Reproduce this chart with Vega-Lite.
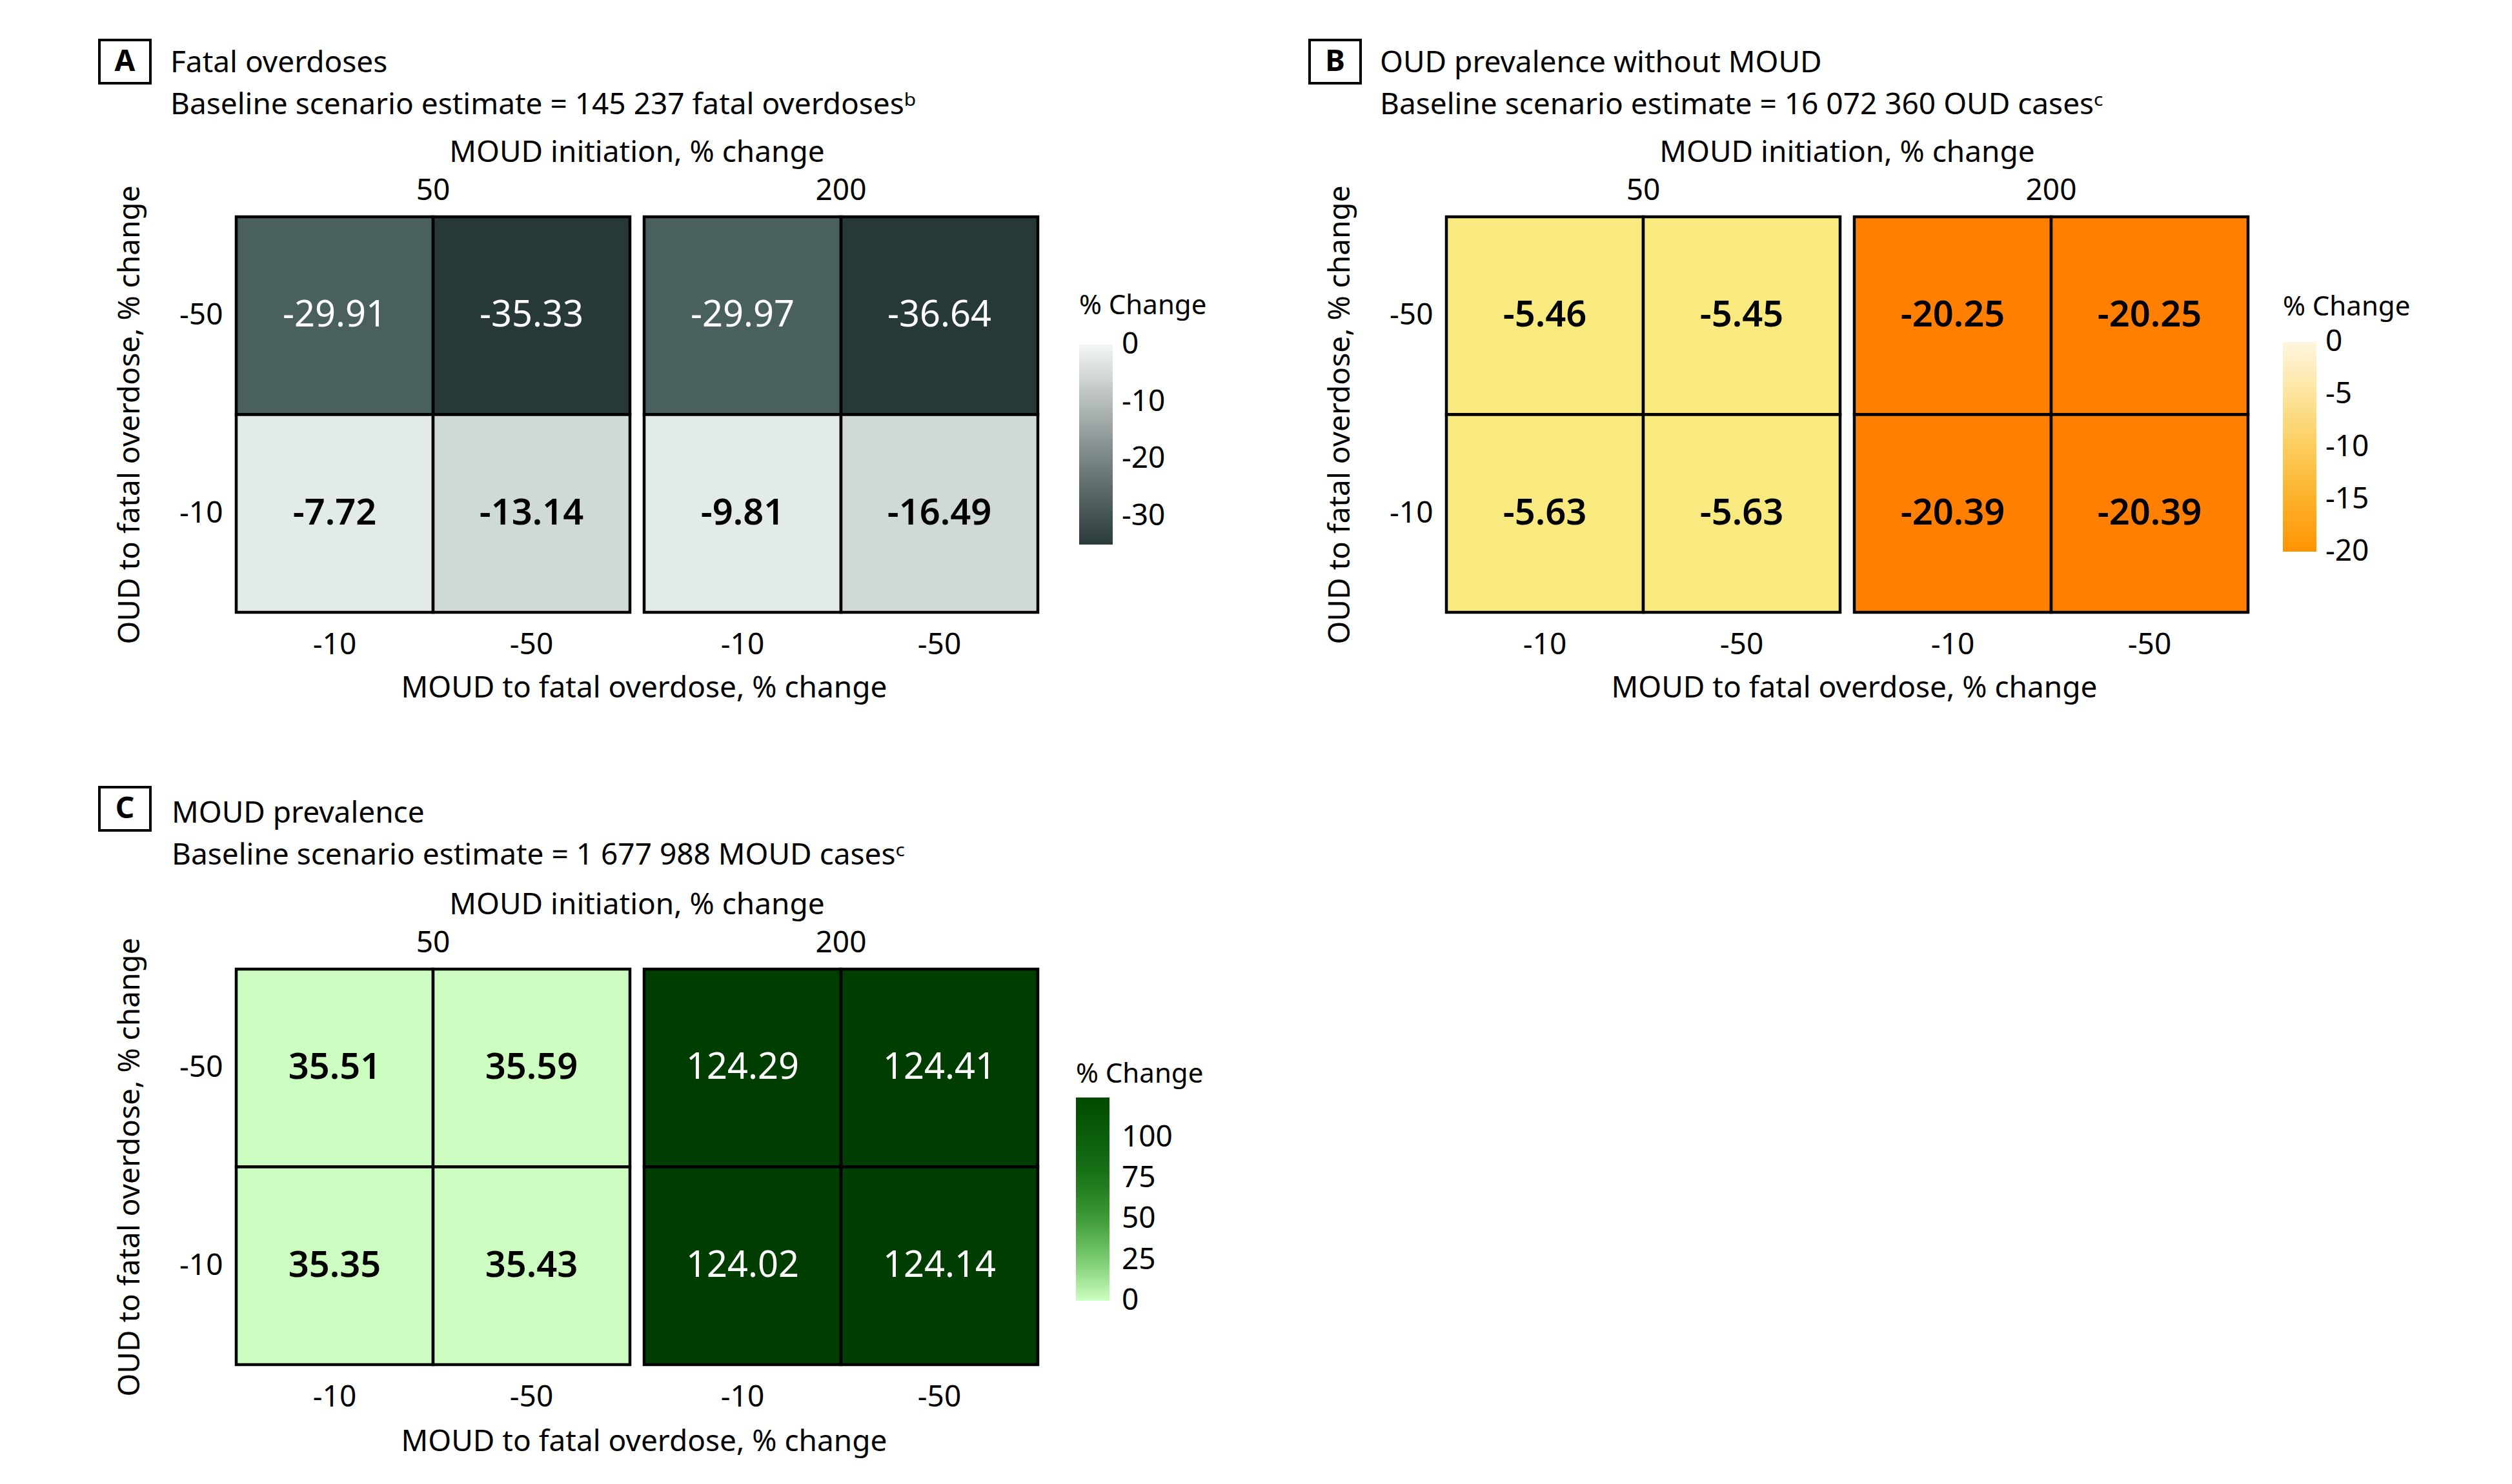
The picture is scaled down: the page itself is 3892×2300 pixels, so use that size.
{
  "$schema": "https://vega.github.io/schema/vega-lite/v6.json",
  "background": "white",
  "padding": {"left": 152, "top": 60, "right": 10, "bottom": 10},
  "config": {
    "font": "Noto Sans",
    "view": {"stroke": null},
    "axis": {"domain": false, "ticks": false, "tickSize": 0, "grid": false, "labelFontSize": 46, "titleFontSize": 46, "labelFont": "Noto Sans", "titleFont": "Noto Sans", "titleFontWeight": "normal", "labelColor": "black", "titleColor": "black", "labelAngle": 0},
    "axisX": {"labelPadding": 25, "titlePadding": 23},
    "axisY": {"labelPadding": 18, "titlePadding": 52},
    "header": {"labelFontSize": 46, "titleFontSize": 46, "labelPadding": 13, "titlePadding": 2, "labelFont": "Noto Sans", "titleFont": "Noto Sans", "titleFontWeight": "normal", "labelColor": "black", "titleColor": "black"},
    "title": {"font": "Noto Sans", "fontSize": 46, "fontWeight": "normal", "subtitleFont": "Noto Sans", "subtitleFontSize": 46, "color": "black", "subtitleColor": "black", "anchor": "start", "subtitlePadding": 19},
    "legend": {"titleFontSize": 42, "labelFontSize": 46, "gradientThickness": 52, "gradientLength": 310, "titleFontWeight": "normal", "titlePadding": 14, "titleColor": "black", "labelColor": "black", "titleLimit": 500, "labelOverlap": false, "titleFont": "Noto Sans", "labelFont": "Noto Sans", "direction": "vertical", "gradientStrokeWidth": 0}
  },
  "datasets": {
    "A": [
      {"init": 50, "moud": -10, "oud": -50, "value": -29.91},
      {"init": 50, "moud": -50, "oud": -50, "value": -35.33},
      {"init": 50, "moud": -10, "oud": -10, "value": -7.72},
      {"init": 50, "moud": -50, "oud": -10, "value": -13.14},
      {"init": 200, "moud": -10, "oud": -50, "value": -29.97},
      {"init": 200, "moud": -50, "oud": -50, "value": -36.64},
      {"init": 200, "moud": -10, "oud": -10, "value": -9.81},
      {"init": 200, "moud": -50, "oud": -10, "value": -16.49}
    ],
    "B": [
      {"init": 50, "moud": -10, "oud": -50, "value": -5.46},
      {"init": 50, "moud": -50, "oud": -50, "value": -5.45},
      {"init": 50, "moud": -10, "oud": -10, "value": -5.63},
      {"init": 50, "moud": -50, "oud": -10, "value": -5.63},
      {"init": 200, "moud": -10, "oud": -50, "value": -20.25},
      {"init": 200, "moud": -50, "oud": -50, "value": -20.25},
      {"init": 200, "moud": -10, "oud": -10, "value": -20.39},
      {"init": 200, "moud": -50, "oud": -10, "value": -20.39}
    ],
    "C": [
      {"init": 50, "moud": -10, "oud": -50, "value": 35.51},
      {"init": 50, "moud": -50, "oud": -50, "value": 35.59},
      {"init": 50, "moud": -10, "oud": -10, "value": 35.35},
      {"init": 50, "moud": -50, "oud": -10, "value": 35.43},
      {"init": 200, "moud": -10, "oud": -50, "value": 124.29},
      {"init": 200, "moud": -50, "oud": -50, "value": 124.41},
      {"init": 200, "moud": -10, "oud": -10, "value": 124.02},
      {"init": 200, "moud": -50, "oud": -10, "value": 124.14}
    ],
    "letters": [{"letter": "A"}, {"letter": "B"}, {"letter": "C"}]
  },
  "resolve": {"scale": {"fill": "independent", "stroke": "independent"}, "legend": {"stroke": "independent"}},
  "spacing": 128,
  "vconcat": [
    {
      "resolve": {"scale": {"fill": "independent", "stroke": "independent"}, "legend": {"stroke": "independent"}},
      "spacing": 157,
      "hconcat": [
        {
          "spacing": -57,
          "hconcat": [
            {"width": 79, "height": 67, "data": {"name": "letters"}, "transform": [{"filter": "datum.letter == 'A'"}],
             "mark": {"type": "text", "fontSize": 46, "fontWeight": "bold", "align": "center", "baseline": "middle", "color": "black"},
             "encoding": {"text": {"field": "letter"}}, "view": {"stroke": "black", "strokeWidth": 4}},
            {
              "spacing": 28,
              "vconcat": [
                {"width": 1, "height": 67, "data": {"name": "letters"}, "transform": [{"filter": "datum.letter == 'A'"}],
                 "mark": {"type": "text", "opacity": 0}, "encoding": {"text": {"value": ""}},
                 "title": {"text": "Fatal overdoses", "subtitle": "Baseline scenario estimate = 145 237 fatal overdosesᵇ", "orient": "top", "anchor": "start", "offset": -125, "dx": -102}},
                {
                  "data": {"name": "A"},
                  "title": {"text": "MOUD to fatal overdose, % change", "orient": "bottom", "anchor": "middle", "frame": "group", "offset": 23, "dx": 632},
                  "facet": {"column": {"field": "init", "type": "ordinal", "sort": [50, 200], "title": "MOUD initiation, % change"}},
                  "spacing": 16,
                  "spec": {
                    "width": 610, "height": 613,
                    "encoding": {
                      "x": {"field": "moud", "type": "ordinal", "sort": [-10, -50], "title": null, "scale": {"paddingInner": 0, "paddingOuter": 0}},
                      "y": {"field": "oud", "type": "ordinal", "sort": [-50, -10], "title": "OUD to fatal overdose, % change", "scale": {"paddingInner": 0, "paddingOuter": 0}}
                    },
                    "layer": [
                      {"mark": {"type": "rect", "stroke": "black", "strokeWidth": 4.5},
                       "encoding": {"fill": {"field": "value", "type": "quantitative", "legend": null,
                         "scale": {"domain": [-36.64, -35.33, -29.97, -29.91, -16.49, -13.14, -9.81, -7.72], "range": ["#273838", "#273838", "#4a605e", "#4a605e", "#cfdad8", "#cfdad8", "#e3ebe8", "#e3ebe8"]}}}},
                      {"transform": [{"filter": "datum.value < -25"}], "mark": {"type": "text", "fontSize": 56, "color": "white"},
                       "encoding": {"text": {"field": "value", "type": "nominal"}}},
                      {"transform": [{"filter": "datum.value >= -25"}], "mark": {"type": "text", "fontSize": 56, "color": "black", "fontWeight": 600},
                       "encoding": {"text": {"field": "value", "type": "nominal"}}},
                      {"mark": {"type": "text"},
                       "encoding": {"text": {"value": ""}, "stroke": {"field": "value", "type": "quantitative",
                         "scale": {"domain": [-35, 0], "range": ["#2a3a3a", "#f5f7f7"], "interpolate": "lab"},
                         "legend": {"title": "% Change", "orient": "none", "legendX": 1518, "legendY": 392, "titlePadding": 38, "labelOffset": 14, "values": [0, -10, -20, -30], "labelExpr": "replace(datum.label, '−', '-')", "encode": {"labels": {"update": {"baseline": {"value": "middle"}}}}}}}}
                    ]
                  }
                }
              ]
            }
          ]
        },
        {
          "spacing": -57,
          "hconcat": [
            {"width": 79, "height": 67, "data": {"name": "letters"}, "transform": [{"filter": "datum.letter == 'B'"}],
             "mark": {"type": "text", "fontSize": 46, "fontWeight": "bold", "align": "center", "baseline": "middle", "color": "black"},
             "encoding": {"text": {"field": "letter"}}, "view": {"stroke": "black", "strokeWidth": 4}},
            {
              "spacing": 28,
              "vconcat": [
                {"width": 1, "height": 67, "data": {"name": "letters"}, "transform": [{"filter": "datum.letter == 'B'"}],
                 "mark": {"type": "text", "opacity": 0}, "encoding": {"text": {"value": ""}},
                 "title": {"text": "OUD prevalence without MOUD", "subtitle": "Baseline scenario estimate = 16 072 360 OUD casesᶜ", "orient": "top", "anchor": "start", "offset": -125, "dx": -103}},
                {
                  "data": {"name": "B"},
                  "title": {"text": "MOUD to fatal overdose, % change", "orient": "bottom", "anchor": "middle", "frame": "group", "offset": 23, "dx": 632},
                  "facet": {"column": {"field": "init", "type": "ordinal", "sort": [50, 200], "title": "MOUD initiation, % change"}},
                  "spacing": 16,
                  "spec": {
                    "width": 610, "height": 613,
                    "encoding": {
                      "x": {"field": "moud", "type": "ordinal", "sort": [-10, -50], "title": null, "scale": {"paddingInner": 0, "paddingOuter": 0}},
                      "y": {"field": "oud", "type": "ordinal", "sort": [-50, -10], "title": "OUD to fatal overdose, % change", "scale": {"paddingInner": 0, "paddingOuter": 0}}
                    },
                    "layer": [
                      {"mark": {"type": "rect", "stroke": "black", "strokeWidth": 4.5},
                       "encoding": {"fill": {"field": "value", "type": "quantitative", "legend": null,
                         "scale": {"domain": [-20.39, -20.25, -5.63, -5.45], "range": ["#ff8000", "#ff8000", "#f9ea80", "#f9ea80"]}}}},
                      {"mark": {"type": "text", "fontSize": 56, "color": "black", "fontWeight": 600},
                       "encoding": {"text": {"field": "value", "type": "nominal"}}},
                      {"mark": {"type": "text"},
                       "encoding": {"text": {"value": ""}, "stroke": {"field": "value", "type": "quantitative",
                         "scale": {"domain": [-20, -15, -10, -5, 0], "range": ["#ff9200", "#fdb12a", "#fccd5c", "#fde49c", "#fff6e0"]},
                         "legend": {"title": "% Change", "orient": "none", "legendX": 1508, "legendY": 394, "titlePadding": 32, "gradientLength": 325, "labelOffset": 14, "values": [0, -5, -10, -15, -20], "labelExpr": "replace(datum.label, '−', '-')", "encode": {"labels": {"update": {"baseline": {"value": "middle"}}}}}}}}
                    ]
                  }
                }
              ]
            }
          ]
        }
      ]
    },
    {
      "spacing": -57,
      "hconcat": [
        {"width": 79, "height": 67, "data": {"name": "letters"}, "transform": [{"filter": "datum.letter == 'C'"}],
         "mark": {"type": "text", "fontSize": 46, "fontWeight": "bold", "align": "center", "baseline": "middle", "color": "black"},
         "encoding": {"text": {"field": "letter"}}, "view": {"stroke": "black", "strokeWidth": 4}},
        {
          "spacing": 31,
          "vconcat": [
            {"width": 1, "height": 67, "data": {"name": "letters"}, "transform": [{"filter": "datum.letter == 'C'"}],
             "mark": {"type": "text", "opacity": 0}, "encoding": {"text": {"value": ""}},
             "title": {"text": "MOUD prevalence", "subtitle": "Baseline scenario estimate = 1 677 988 MOUD casesᶜ", "orient": "top", "anchor": "start", "offset": -130, "dx": -100}},
            {
              "data": {"name": "C"},
              "title": {"text": "MOUD to fatal overdose, % change", "orient": "bottom", "anchor": "middle", "frame": "group", "offset": 25, "dx": 632},
              "facet": {"column": {"field": "init", "type": "ordinal", "sort": [50, 200], "title": "MOUD initiation, % change"}},
              "spacing": 16,
              "spec": {
                "width": 610, "height": 613,
                "encoding": {
                  "x": {"field": "moud", "type": "ordinal", "sort": [-10, -50], "title": null, "scale": {"paddingInner": 0, "paddingOuter": 0}},
                  "y": {"field": "oud", "type": "ordinal", "sort": [-50, -10], "title": "OUD to fatal overdose, % change", "scale": {"paddingInner": 0, "paddingOuter": 0}}
                },
                "layer": [
                  {"mark": {"type": "rect", "stroke": "black", "strokeWidth": 4.5},
                   "encoding": {"fill": {"field": "value", "type": "quantitative", "legend": null,
                     "scale": {"domain": [35.35, 35.59, 124.02, 124.41], "range": ["#ccfcc0", "#ccfcc0", "#003d00", "#003d00"]}}}},
                  {"transform": [{"filter": "datum.value > 80"}], "mark": {"type": "text", "fontSize": 56, "color": "white"},
                   "encoding": {"text": {"field": "value", "type": "nominal"}}},
                  {"transform": [{"filter": "datum.value <= 80"}], "mark": {"type": "text", "fontSize": 56, "color": "black", "fontWeight": 600},
                   "encoding": {"text": {"field": "value", "type": "nominal"}}},
                  {"mark": {"type": "text"},
                   "encoding": {"text": {"value": ""}, "stroke": {"field": "value", "type": "quantitative",
                     "scale": {"domain": [0, 25, 50, 75, 100, 124.41], "range": ["#ccffc0", "#7acc70", "#3f9c37", "#1b7419", "#0b5f0b", "#004a00"]},
                     "legend": {"title": "% Change", "orient": "none", "legendX": 1513, "legendY": 425, "gradientLength": 315, "labelOffset": 19, "values": [0, 25, 50, 75, 100], "labelExpr": "replace(datum.label, '−', '-')", "encode": {"labels": {"update": {"baseline": {"value": "middle"}}}}}}}}
                ]
              }
            }
          ]
        }
      ]
    }
  ]
}
